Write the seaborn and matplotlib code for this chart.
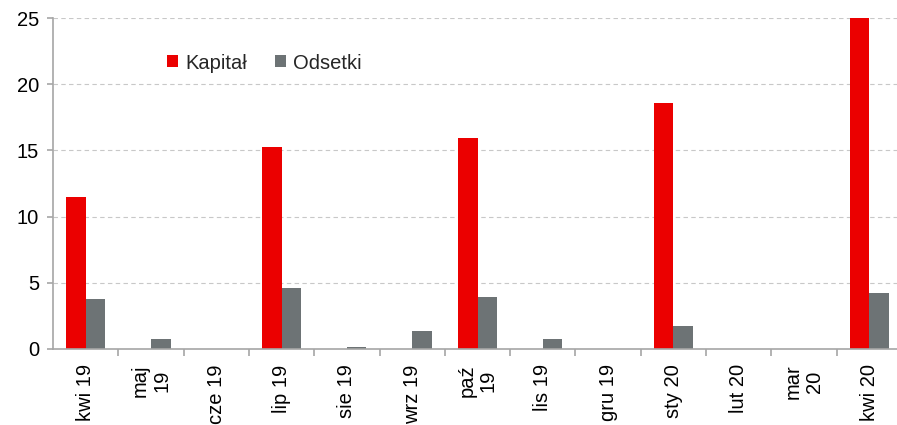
import matplotlib
matplotlib.use("Agg")
import matplotlib.pyplot as plt
import seaborn as sns
import pandas as pd
from matplotlib.ticker import FixedLocator

months = ["kwi 19", "maj\n19", "cze 19", "lip 19", "sie 19", "wrz 19", "paź\n19",
          "lis 19", "gru 19", "sty 20", "lut 20", "mar\n20", "kwi 20"]
kapital = [11.5, 0, 0, 15.25, 0, 0, 15.9, 0, 0, 18.55, 0, 0, 25.0]
odsetki = [3.75, 0.75, 0, 4.6, 0.15, 1.35, 3.95, 0.75, 0, 1.75, 0, 0, 4.2]
series = ["Kapitał", "Odsetki"]
colors = ["#EB0000", "#6D7375"]

df = pd.DataFrame({
    "miesiac": months * 2,
    "wartosc": kapital + odsetki,
    "seria": [series[0]] * len(months) + [series[1]] * len(months),
})

sns.set_style("white")
plt.rcParams["font.family"] = ["Liberation Sans", "DejaVu Sans"]
FS = 14.5

fig = plt.figure(figsize=(8.97, 4.25), dpi=100)
ax = fig.add_axes([53 / 897, 76 / 425, 849 / 897, 331 / 425])

sns.barplot(data=df, x="miesiac", y="wartosc", hue="seria", palette=colors,
            width=0.6, gap=0, ax=ax, saturation=1, linewidth=0)

ax.set_xlim(-0.5, len(months) - 0.5)
ax.set_ylim(0, 25)
ax.set_yticks([0, 5, 10, 15, 20, 25])
ax.set_xlabel("")
ax.set_ylabel("")

ax.yaxis.grid(True, color="#C8C8C8", linestyle=(0, (4, 3)), linewidth=0.8)
ax.set_axisbelow(True)

for side in ["top", "right"]:
    ax.spines[side].set_visible(False)
for side in ["left", "bottom"]:
    ax.spines[side].set_color("#A6A6A6")
    ax.spines[side].set_linewidth(1.2)

ax.tick_params(axis="y", which="major", length=4, width=1.2, color="#A6A6A6",
               pad=6, labelsize=FS, left=True, labelcolor="#000000")
ax.tick_params(axis="x", which="major", length=0, pad=11, labelsize=FS,
               labelcolor="#000000")
ax.xaxis.set_minor_locator(FixedLocator([i + 0.5 for i in range(len(months))]))
ax.tick_params(axis="x", which="minor", length=5, width=1.2, color="#A6A6A6",
               bottom=True)

for lbl in ax.get_xticklabels():
    lbl.set_rotation(90)
    lbl.set_ha("center")
    lbl.set_va("top")
    lbl.set_multialignment("center")
    lbl.set_linespacing(1.15)

leg = ax.legend(loc="center left", bbox_to_anchor=(0.134, 0.864), ncol=2,
                frameon=False, fontsize=FS, handlelength=0.55, handleheight=0.55,
                handletextpad=0.35, columnspacing=1.4, borderaxespad=0,
                borderpad=0)

fig.savefig("out.png", dpi=100)
